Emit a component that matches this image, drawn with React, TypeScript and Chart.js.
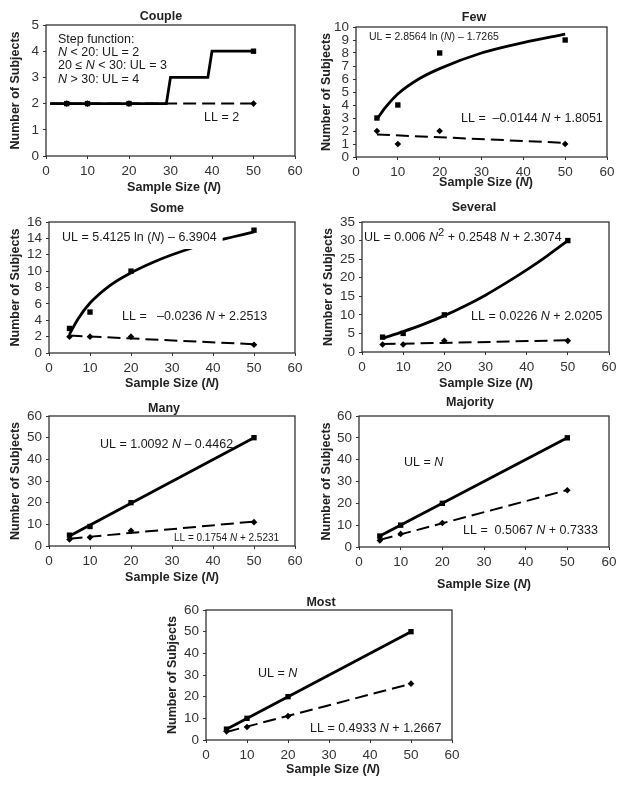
import React, { useEffect, useRef } from "react";
import { Chart, registerables } from "chart.js";
Chart.register(...registerables);

// ---------------- DATA ----------------
const sampleN = [5, 10, 20, 50];
const xTicks = [0, 10, 20, 30, 40, 50, 60];

// Couple
const coupleUL = [2, 2, 2, 4];
const coupleLL = [2, 2, 2, 2];
const coupleStepN = [1, 29, 30, 39, 40, 50];
const coupleStepUL = [2, 2, 3, 3, 4, 4];
const coupleLLFitN = [1, 50];
const coupleLLFit = [2, 2];

// Few
const fewUL = [3, 4, 8, 9];
const fewLL = [2, 1, 2, 1];
const fewCurveN = [5, 7, 10, 15, 20, 30, 40, 50];
const fewCurveUL = [2.9, 3.8, 4.85, 6.0, 6.8, 8.0, 8.8, 9.45];
const fewLLFitN = [5, 50];
const fewLLFit = [1.73, 1.09];

// Some
const someUL = [3, 5, 10, 15];
const someLL = [2, 2, 2, 1];
const someCurveN = [5, 7, 10, 15, 20, 25, 30, 35, 40, 45, 50];
const someCurveUL = [2.3, 4.1, 6.1, 8.3, 9.8, 11.0, 12.0, 12.85, 13.6, 14.2, 14.8];
const someLLFitN = [5, 50];
const someLLFit = [2.13, 1.07];

// Several
const severalUL = [4, 5, 10, 30];
const severalLL = [2, 2, 3, 3];
const severalCurveN = [5, 10, 15, 20, 25, 30, 35, 40, 45, 50];
const severalCurveUL = [3.7, 5.5, 7.5, 9.8, 12.4, 15.3, 18.6, 22.1, 25.9, 30.0];
const severalLLFitN = [5, 50];
const severalLLFit = [2.13, 3.15];

// Many
const manyUL = [5, 9, 20, 50];
const manyLL = [3, 4, 7, 11];
const manyULFitN = [5, 50];
const manyULFit = [4.6, 50.0];
const manyLLFitN = [5, 50];
const manyLLFit = [3.4, 11.3];

// Majority
const majorityUL = [5, 10, 20, 50];
const majorityLL = [3, 6, 11, 26];
const majorityULFitN = [5, 50];
const majorityULFit = [5, 50];
const majorityLLFitN = [5, 50];
const majorityLLFit = [3.27, 26.07];

// Most
const mostUL = [5, 10, 20, 50];
const mostLL = [4, 6, 11, 26];
const mostULFitN = [5, 50];
const mostULFit = [5, 50];
const mostLLFitN = [5, 50];
const mostLLFit = [3.73, 25.93];

// ---------------- LAYOUT / STYLE ----------------
const FONT = "'Liberation Sans', Arial, Helvetica, sans-serif";
const PADL = 46, PADT = 26, PADR = 16, PADB = 46;

type Note = { text: string; dx: number; dy: number; size: number; bg?: boolean };
type Panel = {
  key: string; title: string;
  box: [number, number, number, number];
  yMax: number; yStep: number;
  ulPts: number[]; llPts: number[];
  ulLineN: number[]; ulLine: number[];
  llLineN: number[]; llLine: number[];
  curved: boolean;
  titleOff: [number, number]; xTitleOff: [number, number]; yTitleOff: number;
  notes: Note[];
};

const panels: Panel[] = [
  {
    key: "couple", title: "Couple", box: [46, 25, 295, 156], yMax: 5, yStep: 1,
    ulPts: coupleUL, llPts: coupleLL, ulLineN: coupleStepN, ulLine: coupleStepUL,
    llLineN: coupleLLFitN, llLine: coupleLLFit, curved: false,
    titleOff: [115, -8.5], xTitleOff: [128, 32], yTitleOff: -30,
    notes: [
      { text: "Step function:", dx: 12, dy: 14.3, size: 12.5 },
      { text: "*N* < 20: UL = 2", dx: 12, dy: 27.7, size: 12.5 },
      { text: "20 \u2264 *N* < 30: UL = 3", dx: 12, dy: 41, size: 12.5 },
      { text: "*N* > 30: UL = 4", dx: 12, dy: 55, size: 12.5 },
      { text: "LL = 2", dx: 158, dy: 93, size: 12.5 },
    ],
  },
  {
    key: "few", title: "Few", box: [356, 27, 607, 157], yMax: 10, yStep: 1,
    ulPts: fewUL, llPts: fewLL, ulLineN: fewCurveN, ulLine: fewCurveUL,
    llLineN: fewLLFitN, llLine: fewLLFit, curved: true,
    titleOff: [118, -9], xTitleOff: [130, 26], yTitleOff: -29,
    notes: [
      { text: "UL = 2.8564 ln (*N*) \u2013 1.7265", dx: 13, dy: 10, size: 10.5 },
      { text: "LL =  \u20130.0144 *N* + 1.8051", dx: 105, dy: 92, size: 12.5 },
    ],
  },
  {
    key: "some", title: "Some", box: [49, 222, 295, 353], yMax: 16, yStep: 2,
    ulPts: someUL, llPts: someLL, ulLineN: someCurveN, ulLine: someCurveUL,
    llLineN: someLLFitN, llLine: someLLFit, curved: true,
    titleOff: [118, -13], xTitleOff: [123, 31], yTitleOff: -33,
    notes: [
      { text: "UL = 5.4125 ln (*N*) \u2013 6.3904", dx: 13, dy: 16, size: 12.5, bg: true },
      { text: "LL =   \u20130.0236 *N* + 2.2513", dx: 73, dy: 95, size: 12.5 },
    ],
  },
  {
    key: "several", title: "Several", box: [362, 222, 609, 352], yMax: 35, yStep: 5,
    ulPts: severalUL, llPts: severalLL, ulLineN: severalCurveN, ulLine: severalCurveUL,
    llLineN: severalLLFitN, llLine: severalLLFit, curved: true,
    titleOff: [112, -14], xTitleOff: [124, 32], yTitleOff: -33,
    notes: [
      { text: "UL = 0.006 *N*^2^ + 0.2548 *N* + 2.3074", dx: 2, dy: 16, size: 12.5 },
      { text: "LL = 0.0226 *N* + 2.0205", dx: 109, dy: 95, size: 12.5 },
    ],
  },
  {
    key: "many", title: "Many", box: [49, 416, 295, 546], yMax: 60, yStep: 10,
    ulPts: manyUL, llPts: manyLL, ulLineN: manyULFitN, ulLine: manyULFit,
    llLineN: manyLLFitN, llLine: manyLLFit, curved: false,
    titleOff: [115, -7], xTitleOff: [123, 32], yTitleOff: -33,
    notes: [
      { text: "UL = 1.0092 *N* \u2013 0.4462", dx: 51, dy: 29, size: 12.5 },
      { text: "LL = 0.1754 *N* + 2.5231", dx: 125, dy: 122, size: 10 },
    ],
  },
  {
    key: "majority", title: "Majority", box: [359, 416, 609, 547], yMax: 60, yStep: 10,
    ulPts: majorityUL, llPts: majorityLL, ulLineN: majorityULFitN, ulLine: majorityULFit,
    llLineN: majorityLLFitN, llLine: majorityLLFit, curved: false,
    titleOff: [111, -13], xTitleOff: [125, 38], yTitleOff: -32,
    notes: [
      { text: "UL = *N*", dx: 45, dy: 47, size: 12.5 },
      { text: "LL =  0.5067 *N* + 0.7333", dx: 104, dy: 115, size: 12.5 },
    ],
  },
  {
    key: "most", title: "Most", box: [206, 610, 452, 740], yMax: 60, yStep: 10,
    ulPts: mostUL, llPts: mostLL, ulLineN: mostULFitN, ulLine: mostULFit,
    llLineN: mostLLFitN, llLine: mostLLFit, curved: false,
    titleOff: [115, -7], xTitleOff: [127, 30], yTitleOff: -33,
    notes: [
      { text: "UL = *N*", dx: 52, dy: 64, size: 12.5 },
      { text: "LL = 0.4933 *N* + 1.2667", dx: 104, dy: 119, size: 12.5 },
    ],
  },
];

// ---------------- RICH TEXT ----------------
type Seg = { t: string; it: boolean; sup: boolean };
function parseRich(s: string): Seg[] {
  const parts = s.split(/(\*[^*]+\*|\^[^^]+\^)/).filter((x) => x.length > 0);
  return parts.map((p) => {
    if (p.startsWith("*") && p.endsWith("*")) return { t: p.slice(1, -1), it: true, sup: false };
    if (p.startsWith("^") && p.endsWith("^")) return { t: p.slice(1, -1), it: false, sup: true };
    return { t: p, it: false, sup: false };
  });
}
function fontOf(seg: Seg, size: number, bold: boolean) {
  const sz = seg.sup ? size * 0.9 : size;
  return `${seg.it ? "italic " : ""}${bold ? "bold " : ""}${sz}px ${FONT}`;
}
function measureRich(ctx: CanvasRenderingContext2D, s: string, size: number, bold: boolean) {
  let w = 0;
  for (const seg of parseRich(s)) {
    ctx.font = fontOf(seg, size, bold);
    w += ctx.measureText(seg.t).width;
  }
  return w;
}
function drawRich(
  ctx: CanvasRenderingContext2D, s: string, x: number, y: number,
  size: number, bold: boolean, color: string, align: "left" | "center"
) {
  const total = measureRich(ctx, s, size, bold);
  let cx = align === "center" ? x - total / 2 : x;
  ctx.textBaseline = "middle";
  ctx.textAlign = "left";
  ctx.fillStyle = color;
  for (const seg of parseRich(s)) {
    ctx.font = fontOf(seg, size, bold);
    ctx.fillText(seg.t, cx, y + (seg.sup ? -size * 0.4 : 0));
    cx += ctx.measureText(seg.t).width;
  }
  return total;
}

const pts = (xs: number[], ys: number[]) => xs.map((x, i) => ({ x, y: ys[i] }));

function PanelChart({ p }: { p: Panel }) {
  const ref = useRef<HTMLCanvasElement>(null);
  const [l, t, r, b] = p.box;
  const cl = l - PADL;
  const ct = t - PADT;
  const w = r - l + PADL + PADR;
  const h = b - t + PADT + PADB;

  useEffect(() => {
    const annot = {
      id: "annot" + p.key,
      afterDatasetsDraw(chart: any) {
        const ctx: CanvasRenderingContext2D = chart.ctx;
        const a = chart.chartArea;
        ctx.save();
        for (const n of p.notes) {
          const x = a.left + n.dx;
          const y = a.top + n.dy;
          if (n.bg) {
            const tw = measureRich(ctx, n.text, n.size, false);
            ctx.fillStyle = "#fff";
            ctx.fillRect(x - 4, y - 9, tw + 10, 20);
          }
          drawRich(ctx, n.text, x, y, n.size, false, "#1a1a1a", "left");
        }
        // frame
        ctx.strokeStyle = "#333";
        ctx.lineWidth = 1.3;
        ctx.strokeRect(a.left, a.top, a.right - a.left, a.bottom - a.top);
        // title
        drawRich(ctx, p.title, a.left + p.titleOff[0], a.top + p.titleOff[1], 12.5, true, "#222", "center");
        // x axis title
        drawRich(ctx, "Sample Size (*N*)", a.left + p.xTitleOff[0], a.bottom + p.xTitleOff[1], 12.5, true, "#222", "center");
        // y axis title
        ctx.save();
        ctx.translate(a.left + p.yTitleOff, (a.top + a.bottom) / 2);
        ctx.rotate(-Math.PI / 2);
        drawRich(ctx, "Number of Subjects", 0, 0, 12.5, true, "#222", "center");
        ctx.restore();
        ctx.restore();
      },
    };

    const chart = new Chart(ref.current as HTMLCanvasElement, {
      type: "scatter",
      data: {
        datasets: [
          {
            label: "UL data",
            data: pts(sampleN, p.ulPts),
            pointStyle: "rect",
            pointRadius: 3.8,
            backgroundColor: "#000",
            borderColor: "#000",
            borderWidth: 0,
            showLine: false,
          },
          {
            label: "LL data",
            data: pts(sampleN, p.llPts),
            pointStyle: "rectRot",
            pointRadius: 3.3,
            backgroundColor: "#000",
            borderColor: "#000",
            borderWidth: 0,
            showLine: false,
          },
          {
            label: "UL",
            data: pts(p.ulLineN, p.ulLine),
            showLine: true,
            pointRadius: 0,
            borderColor: "#000",
            borderWidth: 2.8,
            cubicInterpolationMode: p.curved ? "monotone" : "default",
            tension: 0,
          } as any,
          {
            label: "LL",
            data: pts(p.llLineN, p.llLine),
            showLine: true,
            pointRadius: 0,
            borderColor: "#000",
            borderWidth: 2,
            borderDash: [13, 6],
          },
        ],
      },
      options: {
        animation: false,
        responsive: false,
        devicePixelRatio: 1,
        events: [],
        layout: { padding: { left: 0, top: PADT, right: PADR, bottom: 0 } },
        plugins: { legend: { display: false }, tooltip: { enabled: false }, title: { display: false } },
        scales: {
          x: {
            type: "linear",
            min: 0,
            max: 60,
            afterFit: (s: any) => { s.height = PADB; },
            afterBuildTicks: (s: any) => { s.ticks = xTicks.map((v) => ({ value: v })); },
            ticks: { stepSize: 10, autoSkip: false, maxRotation: 0, padding: 4, color: "#333", font: { family: FONT, size: 13.5 } },
            grid: { drawOnChartArea: false, drawTicks: true, tickLength: 3, color: "#333" },
            border: { display: false },
          },
          y: {
            type: "linear",
            min: 0,
            max: p.yMax,
            afterFit: (s: any) => { s.width = PADL; },
            ticks: { stepSize: p.yStep, autoSkip: false, padding: 4, color: "#333", font: { family: FONT, size: 13.5 } },
            grid: { drawOnChartArea: false, drawTicks: true, tickLength: 3, color: "#333" },
            border: { display: false },
          },
        },
      } as any,
      plugins: [annot],
    });
    return () => chart.destroy();
  }, []);

  return (
    <canvas
      ref={ref}
      width={w}
      height={h}
      style={{ position: "absolute", left: cl, top: ct, width: w, height: h }}
    />
  );
}

export default function App() {
  return (
    <div
      style={{
        position: "absolute",
        left: 0,
        top: 0,
        width: 628,
        height: 785,
        background: "#fff",
        overflow: "hidden",
      }}
    >
      {panels.map((p) => (
        <PanelChart key={p.key} p={p} />
      ))}
    </div>
  );
}
